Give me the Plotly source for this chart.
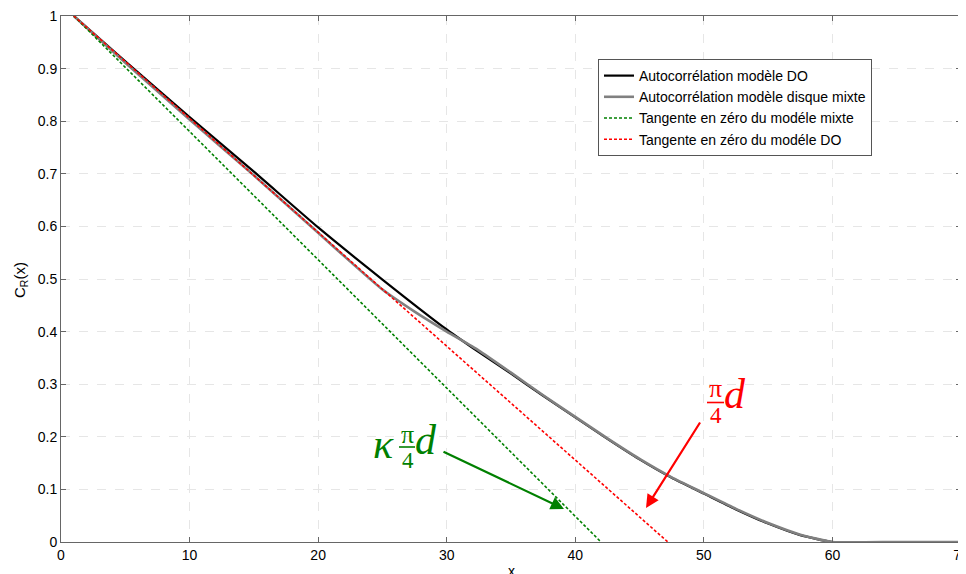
import plotly.graph_objects as go

# ---------------- data ----------------
x_do = [1, 5, 10, 15, 20, 25, 30, 32.5, 35, 37.5, 40, 42.5, 45, 47.5, 50, 52.5, 55, 57.5, 60, 65, 70]
y_do = [1, 0.914, 0.808, 0.704, 0.598, 0.499, 0.404, 0.361, 0.320, 0.278, 0.237, 0.196, 0.157, 0.122, 0.092, 0.062, 0.035, 0.013, 0, 0, 0]

x_mix = [1, 5, 10, 15, 20, 22.5, 25, 27.5, 30, 32.5, 35, 37.5, 40, 42.5, 45, 47.5, 50, 52.5, 55, 57.5, 60, 65, 70]
y_mix = [1, 0.911, 0.803, 0.697, 0.588, 0.533, 0.480, 0.438, 0.400, 0.364, 0.322, 0.279, 0.238, 0.197, 0.158, 0.123, 0.093, 0.063, 0.036, 0.014, 0, 0, 0]

x_tan_mix = [1, 42.0]
y_tan_mix = [1, 0]

x_tan_do = [1, 47.2]
y_tan_do = [1, 0]

names = ["Autocorrélation modèle DO",
         "Autocorrélation modèle disque mixte",
         "Tangente en zéro du modéle mixte",
         "Tangente en zéro du modéle DO"]

x_ticks = [0, 10, 20, 30, 40, 50, 60, 70]
y_ticks = [0, 0.1, 0.2, 0.3, 0.4, 0.5, 0.6, 0.7, 0.8, 0.9, 1]
y_tick_text = ["0", "0.1", "0.2", "0.3", "0.4", "0.5", "0.6", "0.7", "0.8", "0.9", "1"]

# ---------------- layout geometry ----------------
# the page body has an 8px margin, so the figure is drawn offset by (8, 8)
OFF = 8
W, H = 966 - OFF, 574 - OFF
PX0, PX1, PY0, PY1 = 61, 961, 16, 542          # plot area in window pixels
L, T = PX0 - OFF, PY0 - OFF
PW, PH = PX1 - PX0, PY1 - PY0
R, B = W - L - PW, H - T - PH
XMAX = 70


def xd(px):
    return (px - PX0) / PW * XMAX


def yd(py):
    return (PY1 - py) / PH


GREEN = "#008000"
RED = "#ff0000"
SANS = "Liberation Sans, Arial"

fig = go.Figure()
fig.add_trace(go.Scatter(x=x_do, y=y_do, mode="lines", name=names[0],
                         line=dict(color="black", width=2.2, shape="spline", smoothing=0.5)))
fig.add_trace(go.Scatter(x=x_mix, y=y_mix, mode="lines", name=names[1],
                         line=dict(color="#808080", width=2.6, shape="spline", smoothing=0.5)))
fig.add_trace(go.Scatter(x=x_tan_mix, y=y_tan_mix, mode="lines", name=names[2],
                         line=dict(color=GREEN, width=1.6, dash="3px,2px")))
fig.add_trace(go.Scatter(x=x_tan_do, y=y_tan_do, mode="lines", name=names[3],
                         line=dict(color=RED, width=1.6, dash="3px,2px")))

axis_common = dict(
    showgrid=True, gridcolor="#e6e6e6", griddash="dash", gridwidth=1,
    showline=True, linecolor="#666666", linewidth=1, mirror="ticks",
    ticks="inside", ticklen=5, tickcolor="#666666",
    zeroline=False, automargin=False, ticklabeloverflow="allow",
    tickfont=dict(family=SANS, size=14, color="black"),
)

fig.update_layout(
    width=W, height=H,
    margin=dict(l=L, r=R, t=T, b=B),
    paper_bgcolor="white", plot_bgcolor="white",
    font=dict(family=SANS, size=14, color="black"),
    xaxis=dict(range=[0, XMAX], tickvals=x_ticks, ticktext=[str(v) for v in x_ticks], **axis_common),
    yaxis=dict(range=[0, 1], tickvals=y_ticks, ticktext=y_tick_text, **axis_common),
    legend=dict(x=(598 - PX0) / PW, y=yd(59), xanchor="left", yanchor="top",
                bgcolor="white", bordercolor="#555555", borderwidth=1,
                font=dict(family=SANS, size=14, color="black"),
                tracegroupgap=0, itemwidth=30),
    showlegend=True,
)

# axis titles as annotations (paper coordinates)
fig.add_annotation(x=(20 - PX0) / PW, y=yd(280), xref="paper", yref="paper", text="C<sub>R</sub>(x)",
                   showarrow=False, textangle=-90, font=dict(family=SANS, size=15),
                   xanchor="center", yanchor="middle")
fig.add_annotation(x=(511 - PX0) / PW, y=yd(571), xref="paper", yref="paper", text="x",
                   showarrow=False, font=dict(family=SANS, size=14),
                   xanchor="center", yanchor="middle")

SERIF = "Liberation Serif, DejaVu Serif, serif"


def label(px, py, text, color, size):
    fig.add_annotation(x=xd(px), y=yd(py), xref="x", yref="y", text=text, showarrow=False,
                       font=dict(family=SERIF, size=size, color=color),
                       xanchor="center", yanchor="middle")


def bar(px0, px1, py, color):
    fig.add_shape(type="line", xref="x", yref="y", x0=xd(px0), x1=xd(px1), y0=yd(py), y1=yd(py),
                  line=dict(color=color, width=1.6))


# green label  kappa pi/4 d
label(383, 444, "<i>κ</i>", GREEN, 42)
label(407, 434, "π", GREEN, 26)
bar(399, 415, 447, GREEN)
label(408, 460, "4", GREEN, 23)
label(426, 440, "<i>d</i>", GREEN, 42)

# red label  pi/4 d
label(715.5, 388, "π", RED, 26)
bar(707, 724, 402.5, RED)
label(715.5, 415, "4", RED, 23)
label(735, 394, "<i>d</i>", RED, 42)

# arrows
fig.add_annotation(x=xd(564), y=yd(509), ax=xd(442), ay=yd(451), xref="x", yref="y",
                   axref="x", ayref="y", text="", showarrow=True, arrowhead=2, arrowsize=1.2,
                   arrowwidth=2.2, arrowcolor=GREEN, standoff=0)
fig.add_annotation(x=xd(646), y=yd(508), ax=xd(701), ay=yd(421), xref="x", yref="y",
                   axref="x", ayref="y", text="", showarrow=True, arrowhead=2, arrowsize=1.2,
                   arrowwidth=2.2, arrowcolor=RED, standoff=0)

fig.write_html("out.html")
